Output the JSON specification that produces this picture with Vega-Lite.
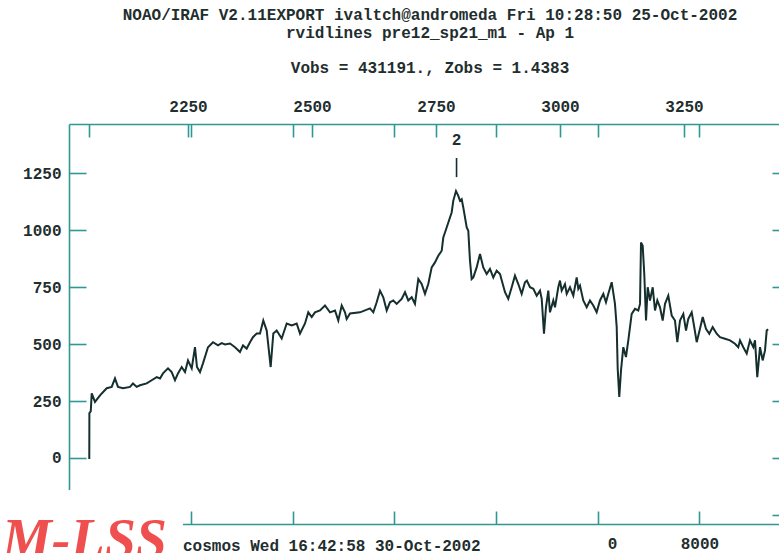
{
  "$schema": "https://vega.github.io/schema/vega-lite/v6.json",
  "width": 710,
  "height": 400,
  "autosize": {"type": "none"},
  "padding": {"left": 69, "top": 124, "right": 0, "bottom": 29},
  "background": "white",
  "config": {
    "view": {"stroke": null},
    "axis": {
      "domainColor": "#2f9893",
      "domainWidth": 1.6,
      "tickColor": "#2f9893",
      "tickWidth": 1.6,
      "labelFont": "Liberation Mono",
      "labelFontWeight": "bold",
      "labelFontSize": 16,
      "labelColor": "#1f2e2e",
      "labelFlush": false,
      "labelOverlap": false,
      "format": "d",
      "grid": false
    }
  },
  "title": {
    "text": ["NOAO/IRAF V2.11EXPORT ivaltch@andromeda Fri 10:28:50 25-Oct-2002", "rvidlines pre12_sp21_m1 - Ap 1"],
    "subtitle": "Vobs = 431191., Zobs = 1.4383",
    "font": "Liberation Mono",
    "fontSize": 16,
    "fontWeight": "bold",
    "color": "#1f2e2e",
    "subtitleFont": "Liberation Mono",
    "subtitleFontSize": 16,
    "subtitleFontWeight": "bold",
    "subtitleColor": "#1f2e2e",
    "lineHeight": 18,
    "subtitleLineHeight": 18,
    "subtitlePadding": 19,
    "anchor": "middle",
    "frame": "group",
    "offset": 22,
    "dx": 6
  },
  "data": {
    "values": [
      {"wave": 2049, "flux": 0}, {"wave": 2051, "flux": 0}, {"wave": 2051.2, "flux": 197}, {"wave": 2054, "flux": 205},
      {"wave": 2055.9, "flux": 284}, {"wave": 2062.5, "flux": 246}, {"wave": 2072.6, "flux": 275}, {"wave": 2086.1, "flux": 306},
      {"wave": 2096.2, "flux": 312}, {"wave": 2102.8, "flux": 349}, {"wave": 2108.9, "flux": 312}, {"wave": 2119, "flux": 306},
      {"wave": 2133.1, "flux": 312}, {"wave": 2139.1, "flux": 327}, {"wave": 2146.6, "flux": 312}, {"wave": 2153.2, "flux": 319},
      {"wave": 2166.7, "flux": 327}, {"wave": 2176.8, "flux": 341}, {"wave": 2186.9, "flux": 355}, {"wave": 2193.6, "flux": 349},
      {"wave": 2199.6, "flux": 371}, {"wave": 2209.7, "flux": 393}, {"wave": 2217.1, "flux": 377}, {"wave": 2223.8, "flux": 341},
      {"wave": 2229.8, "flux": 371}, {"wave": 2237.3, "flux": 399}, {"wave": 2244, "flux": 377}, {"wave": 2250, "flux": 428},
      {"wave": 2257.5, "flux": 393}, {"wave": 2264.1, "flux": 486}, {"wave": 2268.1, "flux": 399}, {"wave": 2274.2, "flux": 377},
      {"wave": 2280.2, "flux": 415}, {"wave": 2290.3, "flux": 486}, {"wave": 2300.4, "flux": 508}, {"wave": 2310.5, "flux": 494},
      {"wave": 2317.9, "flux": 504}, {"wave": 2324.6, "flux": 498}, {"wave": 2334.7, "flux": 502}, {"wave": 2344.8, "flux": 486},
      {"wave": 2354.8, "flux": 465}, {"wave": 2360.9, "flux": 494}, {"wave": 2368.3, "flux": 480}, {"wave": 2375, "flux": 508},
      {"wave": 2381, "flux": 530}, {"wave": 2388.5, "flux": 546}, {"wave": 2395.2, "flux": 546}, {"wave": 2401.8, "flux": 603},
      {"wave": 2408.7, "flux": 559}, {"wave": 2416.7, "flux": 399}, {"wave": 2422, "flux": 546}, {"wave": 2428.8, "flux": 559},
      {"wave": 2438.9, "flux": 524}, {"wave": 2449, "flux": 590}, {"wave": 2459.1, "flux": 581}, {"wave": 2469.1, "flux": 590},
      {"wave": 2475.8, "flux": 546}, {"wave": 2485.9, "flux": 590}, {"wave": 2492.5, "flux": 639}, {"wave": 2499.4, "flux": 618},
      {"wave": 2506, "flux": 639}, {"wave": 2516.1, "flux": 647}, {"wave": 2526.2, "flux": 669}, {"wave": 2536.3, "flux": 639},
      {"wave": 2546.4, "flux": 647}, {"wave": 2553, "flux": 603}, {"wave": 2559.9, "flux": 669}, {"wave": 2566.5, "flux": 639},
      {"wave": 2569.9, "flux": 610}, {"wave": 2576.6, "flux": 634}, {"wave": 2596.8, "flux": 639}, {"wave": 2616.9, "flux": 656},
      {"wave": 2623.6, "flux": 639}, {"wave": 2630.4, "flux": 683}, {"wave": 2637.1, "flux": 734}, {"wave": 2643.7, "flux": 705},
      {"wave": 2650.6, "flux": 647}, {"wave": 2657.2, "flux": 683}, {"wave": 2663.9, "flux": 691}, {"wave": 2670.7, "flux": 676},
      {"wave": 2680.8, "flux": 698}, {"wave": 2687.5, "flux": 727}, {"wave": 2694.1, "flux": 691}, {"wave": 2701, "flux": 705},
      {"wave": 2707.6, "flux": 676}, {"wave": 2714.3, "flux": 785}, {"wave": 2721.1, "flux": 763}, {"wave": 2727.8, "flux": 720},
      {"wave": 2734.4, "flux": 763}, {"wave": 2741.3, "flux": 836}, {"wave": 2747.9, "flux": 858}, {"wave": 2754.6, "flux": 887},
      {"wave": 2761.5, "flux": 909}, {"wave": 2764.7, "flux": 967}, {"wave": 2771.5, "flux": 1011}, {"wave": 2778.2, "flux": 1055},
      {"wave": 2781.6, "flux": 1077}, {"wave": 2784.8, "flux": 1128}, {"wave": 2790.3, "flux": 1171}, {"wave": 2794.9, "flux": 1150},
      {"wave": 2798.4, "flux": 1128}, {"wave": 2801.8, "flux": 1135}, {"wave": 2805, "flux": 1099}, {"wave": 2811.9, "flux": 1011},
      {"wave": 2815.1, "flux": 997}, {"wave": 2818.5, "flux": 865}, {"wave": 2821.9, "flux": 785}, {"wave": 2825.2, "flux": 792},
      {"wave": 2832, "flux": 836}, {"wave": 2838.7, "flux": 895}, {"wave": 2845.3, "flux": 836}, {"wave": 2852.2, "flux": 807},
      {"wave": 2858.8, "flux": 829}, {"wave": 2865.5, "flux": 792}, {"wave": 2872.3, "flux": 822}, {"wave": 2879, "flux": 807},
      {"wave": 2889.1, "flux": 727}, {"wave": 2895.7, "flux": 698}, {"wave": 2902.6, "flux": 749}, {"wave": 2909.2, "flux": 800},
      {"wave": 2915.9, "flux": 763}, {"wave": 2922.7, "flux": 720}, {"wave": 2929.4, "flux": 771}, {"wave": 2933.2, "flux": 778},
      {"wave": 2939.5, "flux": 749}, {"wave": 2946.2, "flux": 742}, {"wave": 2953, "flux": 712}, {"wave": 2959.6, "flux": 734},
      {"wave": 2963.1, "flux": 698}, {"wave": 2967.7, "flux": 545}, {"wave": 2971.7, "flux": 661}, {"wave": 2976.4, "flux": 734},
      {"wave": 2979.8, "flux": 639}, {"wave": 2986.5, "flux": 691}, {"wave": 2989.9, "flux": 661}, {"wave": 2996.5, "flux": 749},
      {"wave": 3000, "flux": 778}, {"wave": 3003.4, "flux": 734}, {"wave": 3010, "flux": 763}, {"wave": 3013.5, "flux": 720},
      {"wave": 3020.1, "flux": 749}, {"wave": 3026.8, "flux": 712}, {"wave": 3033.6, "flux": 792}, {"wave": 3036.9, "flux": 742},
      {"wave": 3040.3, "flux": 756}, {"wave": 3046.9, "flux": 691}, {"wave": 3053.8, "flux": 661}, {"wave": 3060.4, "flux": 691},
      {"wave": 3067.1, "flux": 669}, {"wave": 3073.9, "flux": 639}, {"wave": 3080.6, "flux": 691}, {"wave": 3087.3, "flux": 720},
      {"wave": 3092.7, "flux": 683}, {"wave": 3097.4, "flux": 720}, {"wave": 3104.2, "flux": 771}, {"wave": 3110.8, "flux": 676},
      {"wave": 3114.3, "flux": 574}, {"wave": 3116.3, "flux": 392}, {"wave": 3119.5, "flux": 268}, {"wave": 3123, "flux": 385},
      {"wave": 3127.6, "flux": 486}, {"wave": 3133, "flux": 443}, {"wave": 3137.7, "flux": 516}, {"wave": 3144.5, "flux": 632},
      {"wave": 3151.2, "flux": 654}, {"wave": 3157.8, "flux": 647}, {"wave": 3161.3, "flux": 676}, {"wave": 3163.3, "flux": 945},
      {"wave": 3166.7, "flux": 931}, {"wave": 3169.9, "flux": 807}, {"wave": 3173.4, "flux": 603}, {"wave": 3176.8, "flux": 749},
      {"wave": 3181.4, "flux": 691}, {"wave": 3186.9, "flux": 749}, {"wave": 3191.5, "flux": 647}, {"wave": 3196.2, "flux": 691},
      {"wave": 3201.6, "flux": 661}, {"wave": 3207, "flux": 603}, {"wave": 3211.7, "flux": 676}, {"wave": 3218.3, "flux": 712},
      {"wave": 3225.2, "flux": 625}, {"wave": 3231.8, "flux": 603}, {"wave": 3236.5, "flux": 508}, {"wave": 3241.9, "flux": 603},
      {"wave": 3248.6, "flux": 632}, {"wave": 3254, "flux": 559}, {"wave": 3258.6, "flux": 610}, {"wave": 3265.5, "flux": 639},
      {"wave": 3270.1, "flux": 581}, {"wave": 3275.6, "flux": 508}, {"wave": 3282.2, "flux": 567}, {"wave": 3287.7, "flux": 618},
      {"wave": 3294.3, "flux": 567}, {"wave": 3301, "flux": 545}, {"wave": 3307.8, "flux": 574}, {"wave": 3315.9, "flux": 545},
      {"wave": 3322.5, "flux": 530}, {"wave": 3332.6, "flux": 523}, {"wave": 3342.7, "flux": 516}, {"wave": 3352.8, "flux": 501},
      {"wave": 3359.4, "flux": 486}, {"wave": 3362.9, "flux": 516}, {"wave": 3369.5, "flux": 486}, {"wave": 3376.4, "flux": 458},
      {"wave": 3383, "flux": 516}, {"wave": 3389.7, "flux": 486}, {"wave": 3393.1, "flux": 516}, {"wave": 3397.7, "flux": 355},
      {"wave": 3403.2, "flux": 486}, {"wave": 3408.6, "flux": 428}, {"wave": 3413.3, "flux": 472}, {"wave": 3416.7, "flux": 559},
      {"wave": 3419.5, "flux": 565}
    ]
  },
  "resolve": {"scale": {"x": "independent", "y": "independent"}},
  "layer": [
    {
      "mark": {"type": "line", "color": "#142f2d", "strokeWidth": 2},
      "encoding": {
        "x": {
          "field": "wave", "type": "quantitative",
          "scale": {"domain": [2010.1, 3441.5], "nice": false, "zero": false},
          "axis": {"orient": "top", "values": [2250, 2500, 2750, 3000, 3250], "tickSize": -13, "labelPadding": 23, "title": null}
        },
        "y": {
          "field": "flux", "type": "quantitative",
          "scale": {"domain": [-289.5, 1465], "nice": false, "zero": false},
          "axis": {"orient": "left", "values": [0, 250, 500, 750, 1000, 1250], "tickSize": -17, "labelPadding": 25, "title": null}
        }
      }
    },
    {
      "data": {"values": [{}]},
      "mark": {"type": "point", "opacity": 0},
      "encoding": {
        "x": {
          "datum": 6500, "type": "quantitative",
          "scale": {"domain": [4901.3, 8391.4], "nice": false, "zero": false},
          "axis": {"orient": "bottom", "values": [5000, 5500, 6000, 6500, 7000, 7500, 8000], "labelExpr": "datum.value >= 7500 ? datum.label : ''", "tickSize": -13, "labelPadding": 24, "title": null}
        },
        "y": {
          "datum": 0, "type": "quantitative",
          "scale": {"domain": [-289.5, 1465], "nice": false, "zero": false},
          "axis": {"orient": "right", "values": [-250, 0, 250, 500, 750, 1000, 1250], "tickSize": -7, "labels": false, "domain": false, "title": null}
        }
      }
    },
    {
      "data": {"values": [{}]},
      "mark": {"type": "point", "opacity": 0},
      "encoding": {
        "x": {
          "datum": 6500, "type": "quantitative",
          "scale": {"domain": [4901.3, 8391.4], "nice": false, "zero": false},
          "axis": {"orient": "top", "values": [5000, 5500, 6000, 6500, 7000, 7500, 8000], "tickSize": -13, "labels": false, "domain": false, "title": null}
        },
        "y": {
          "datum": 0, "type": "quantitative",
          "scale": {"domain": [-289.5, 1465], "nice": false, "zero": false},
          "axis": null
        }
      }
    },
    {
      "data": {"values": [{"wave": 2791.4, "id": "2"}]},
      "mark": {"type": "rule", "color": "#142f2d", "strokeWidth": 1.6},
      "encoding": {
        "x": {"field": "wave", "type": "quantitative", "scale": {"domain": [2010.1, 3441.5], "nice": false, "zero": false}, "axis": null},
        "y": {"datum": 1232, "type": "quantitative", "scale": {"domain": [-289.5, 1465], "nice": false, "zero": false}, "axis": null},
        "y2": {"datum": 1316}
      }
    },
    {
      "data": {"values": [{"wave": 2791.4, "id": "2"}]},
      "mark": {"type": "text", "font": "Liberation Mono", "fontSize": 16, "fontWeight": "bold", "color": "#1f2e2e", "baseline": "middle", "align": "center"},
      "encoding": {
        "x": {"field": "wave", "type": "quantitative", "scale": {"domain": [2010.1, 3441.5], "nice": false, "zero": false}, "axis": null},
        "y": {"datum": 1395, "type": "quantitative", "scale": {"domain": [-289.5, 1465], "nice": false, "zero": false}, "axis": null},
        "text": {"field": "id"}
      }
    },
    {
      "data": {"values": [{}]},
      "mark": {"type": "rect", "color": "white"},
      "encoding": {
        "x": {"datum": 1860, "type": "quantitative", "scale": {"domain": [2010.1, 3441.5], "nice": false, "zero": false}, "axis": null},
        "x2": {"datum": 2239.9},
        "y": {"datum": -140.3, "type": "quantitative", "scale": {"domain": [-289.5, 1465], "nice": false, "zero": false}, "axis": null},
        "y2": {"datum": -460}
      }
    },
    {
      "data": {"values": [{}]},
      "mark": {"type": "rect", "color": "white"},
      "encoding": {
        "x": {"datum": 2239.9, "type": "quantitative", "scale": {"domain": [2010.1, 3441.5], "nice": false, "zero": false}, "axis": null},
        "x2": {"datum": 3096.8},
        "y": {"datum": -311.3, "type": "quantitative", "scale": {"domain": [-289.5, 1465], "nice": false, "zero": false}, "axis": null},
        "y2": {"datum": -460}
      }
    },
    {
      "data": {"values": [{}]},
      "mark": {"type": "text", "font": "Liberation Mono", "fontSize": 16, "fontWeight": "bold", "color": "#1f2e2e", "align": "left", "baseline": "alphabetic"},
      "encoding": {
        "x": {"datum": 2239.9, "type": "quantitative", "scale": {"domain": [2010.1, 3441.5], "nice": false, "zero": false}, "axis": null},
        "y": {"datum": -410, "type": "quantitative", "scale": {"domain": [-289.5, 1465], "nice": false, "zero": false}, "axis": null},
        "text": {"value": "cosmos Wed 16:42:58 30-Oct-2002"}
      }
    },
    {
      "data": {"values": [{}]},
      "mark": {"type": "text", "font": "Liberation Serif", "fontSize": 56, "fontStyle": "italic", "fontWeight": "bold", "color": "#ef4f4f", "align": "right", "baseline": "alphabetic"},
      "encoding": {
        "x": {"datum": 2207.7, "type": "quantitative", "scale": {"domain": [2010.1, 3441.5], "nice": false, "zero": false}, "axis": null},
        "y": {"datum": -438.5, "type": "quantitative", "scale": {"domain": [-289.5, 1465], "nice": false, "zero": false}, "axis": null},
        "text": {"value": "M-LSS"}
      }
    }
  ]
}
